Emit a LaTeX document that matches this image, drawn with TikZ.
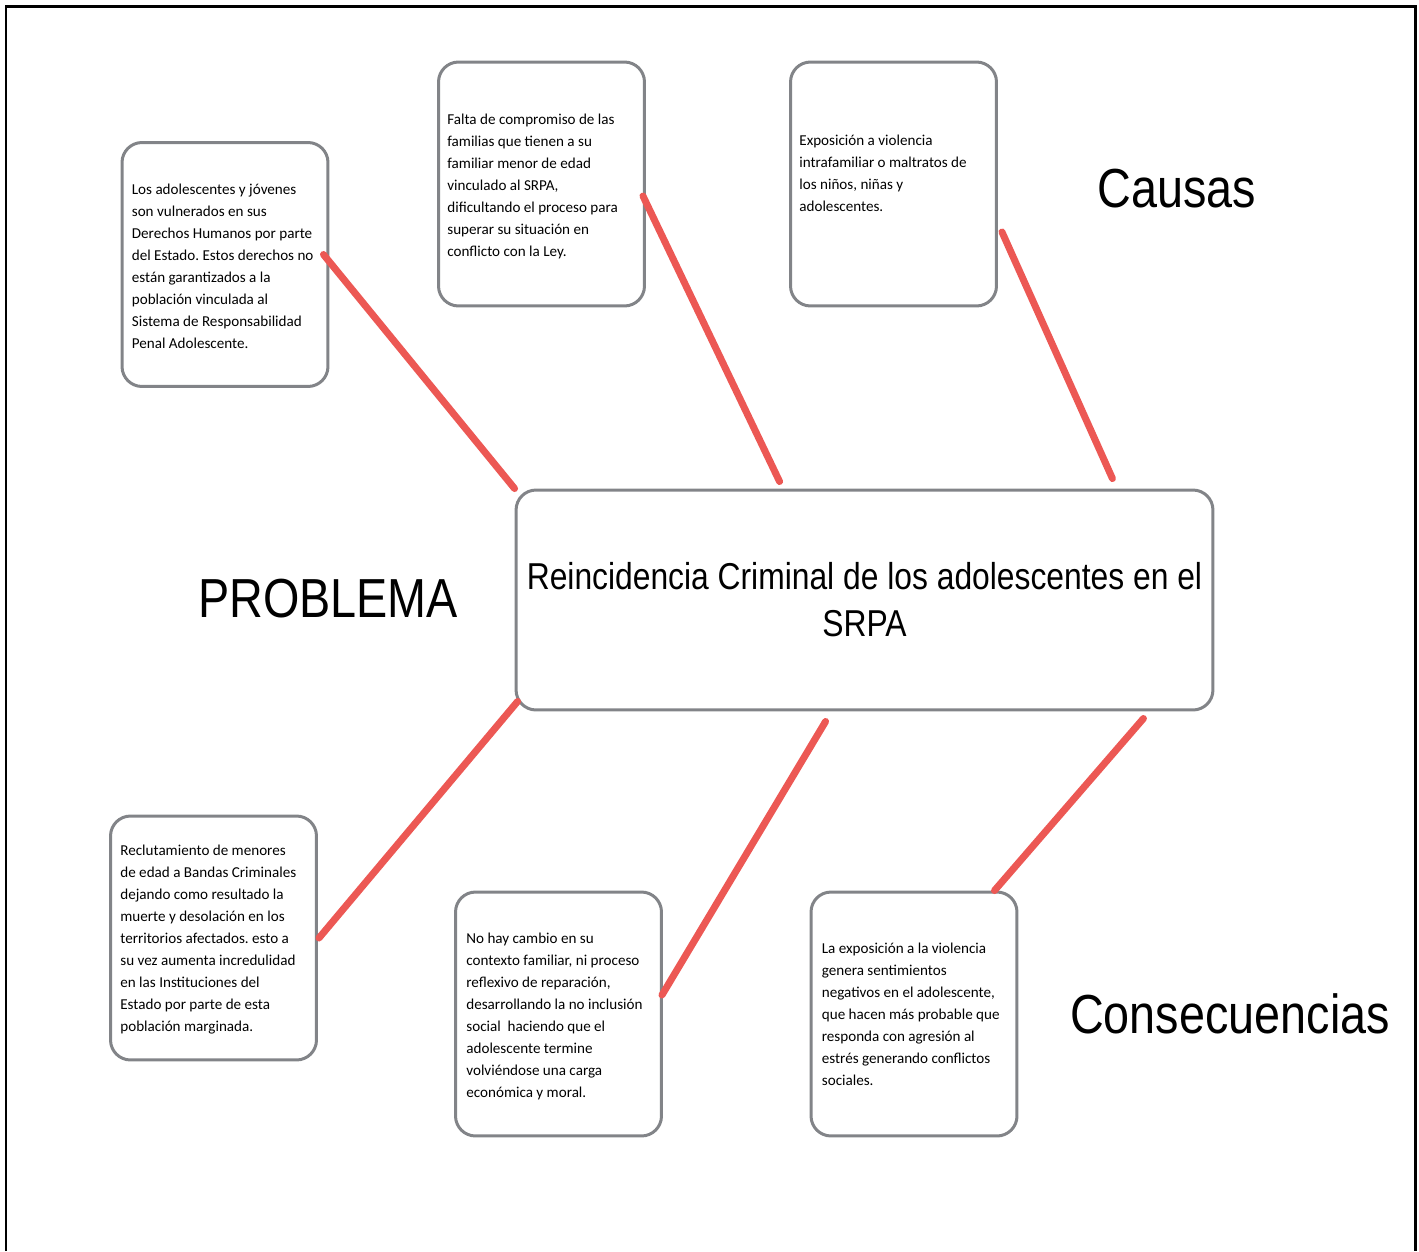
\documentclass[tikz,border=0pt]{standalone}
\usepackage{fontspec}
\usepackage{tikz}
\usepackage{xcolor}
\usetikzlibrary{calc}

\setmainfont{Carlito}
\newfontfamily\titlefont[FakeStretch=0.85]{Liberation Sans}
\definecolor{boxgray}{RGB}{130,132,136}
\definecolor{fishred}{RGB}{236,88,84}
\frenchspacing

\begin{document}
\begin{tikzpicture}[
            x=0.02cm, y=-0.02cm,
            smallbox/.style={draw=boxgray, line width=0.06cm, rounded corners=0.4cm,
                minimum width=4.12cm, minimum height=4.88cm, inner sep=0pt},
            bigbox/.style={draw=boxgray, line width=0.06cm, rounded corners=0.4cm,
                minimum width=13.94cm, minimum height=4.4cm, inner sep=0pt, align=center,
                font=\titlefont\fontsize{21.3pt}{26.7pt}\selectfont},
            boxtext/.style={anchor=base west, align=left, inner sep=0pt,
                font=\fontsize{8.6pt}{12.5pt}\selectfont},
            heading/.style={anchor=base, inner sep=0pt, font=\titlefont\fontsize{31.3pt}{36pt}\selectfont},
            bone/.style={draw=fishred, line width=0.14cm, line cap=round}
        ]

            \useasboundingbox (0,0) rectangle (1419,1251);
            \draw[line width=0.06cm] (6,1251) -- (6,6) -- (1415,6) -- (1415,1251);

            \node[bigbox] (centro) at (864.5,600) {Reincidencia Criminal de los adolescentes en el\\SRPA};

            \node[smallbox] (derechos) at (225,264.5) {};
            \node[smallbox] (familias) at (541.5,184) {};
            \node[smallbox] (violencia) at (893.5,184) {};
            \node[smallbox] (bandas) at (213.5,938) {};
            \node[smallbox] (contexto) at (558.5,1014) {};
            \node[smallbox] (estres) at (914,1014) {};

            \node[boxtext] (derechosTxt) at ($(derechos.north west)+(11,207)$) {Los adolescentes y jóvenes\\son vulnerados en sus\\Derechos Humanos por parte\\del Estado. Estos derechos no\\están garantizados a la\\población vinculada al\\Sistema de Responsabilidad\\Penal Adolescente.};
            \node[boxtext] (familiasTxt) at ($(familias.north west)+(10,196)$) {Falta de compromiso de las\\familias que tienen a su\\familiar menor de edad\\vinculado al SRPA,\\dificultando el proceso para\\superar su situación en\\conflicto con la Ley.};
            \node[boxtext] (violenciaTxt) at ($(violencia.north west)+(10,151)$) {Exposición a violencia\\intrafamiliar o maltratos de\\los niños, niñas y\\adolescentes.};
            \node[boxtext] (bandasTxt) at ($(bandas.north west)+(11,217)$) {Reclutamiento de menores\\de edad a Bandas Criminales\\dejando como resultado la\\muerte y desolación en los\\territorios afectados. esto a\\su vez aumenta incredulidad\\en las Instituciones del\\Estado por parte de esta\\población marginada.};
            \node[boxtext] (contextoTxt) at ($(contexto.north west)+(12,207)$) {No hay cambio en su\\contexto familiar, ni proceso\\reflexivo de reparación,\\desarrollando la no inclusión\\social\ \ haciendo que el\\adolescente termine\\volviéndose una carga\\económica y moral.};
            \node[boxtext] (estresTxt) at ($(estres.north west)+(12,195)$) {La exposición a la violencia\\genera sentimientos\\negativos en el adolescente,\\que hacen más probable que\\responda con agresión al\\estrés generando conflictos\\sociales.};

            \node[heading] (problema) at (328,617) {PROBLEMA};
            \node[heading] (causas) at (1177,207) {Causas};
            \node[heading] (consecuencias) at (1230,1033) {Consecuencias};

            \draw[bone] ($(derechos.east)+(-6,-10)$) -- (centro.north west);
            \draw[bone] ($(familias.east)+(-3,12)$) -- ($(centro.north west)+(265,-7)$);
            \draw[bone] ($(violencia.east)+(4,48)$) -- ($(centro.north east)+(-102,-10)$);
            \draw[bone] ($(centro.south west)+(3,-10)$) -- ($(bandas.east)+(1,0)$);
            \draw[bone] ($(centro.south west)+(311,10)$) -- ($(contexto.east)+(-1,-19)$);
            \draw[bone] ($(centro.south east)+(-71,7)$) -- ($(estres.north east)+(-24,0)$);
        \end{tikzpicture}
\end{document}
